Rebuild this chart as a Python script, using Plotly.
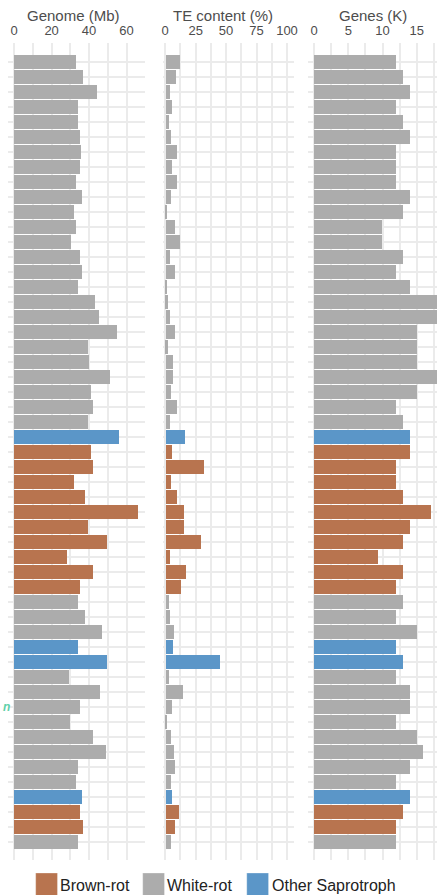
import plotly.graph_objects as go

# ---- data (one entry per genome/row, top to bottom) ----
lifestyle = (["White-rot"] * 25 + ["Other Saprotroph"] + ["Brown-rot"] * 10 +
             ["White-rot"] * 3 + ["Other Saprotroph"] * 2 + ["White-rot"] * 8 +
             ["Other Saprotroph"] + ["Brown-rot"] * 2 + ["White-rot"])

genome_mb = [33.2, 37.0, 44.1, 34.1, 34.1, 35.3, 36.0, 35.3, 33.3, 36.2,
             32.1, 33.3, 30.4, 35.3, 36.2, 34.2, 43.1, 45.3, 55.0, 39.4,
             40.2, 51.2, 41.1, 42.2, 39.4, 55.9, 41.1, 42.2, 32.1, 38.1,
             66.0, 39.4, 49.9, 28.2, 42.2, 35.3, 34.2, 38.1, 47.1, 34.2,
             49.9, 29.3, 46.2, 35.3, 30.2, 42.2, 49.0, 34.2, 33.2, 36.2,
             35.3, 37.0, 34.2]

te_pct = [11.7, 8.2, 3.8, 5.1, 2.9, 4.1, 8.9, 4.9, 9.5, 4.3,
          1.1, 7.6, 11.4, 3.8, 7.9, 0.8, 1.6, 3.2, 7.6, 1.6,
          6.2, 5.7, 4.3, 8.9, 3.2, 15.7, 5.1, 31.8, 4.3, 8.9,
          14.9, 14.9, 28.8, 3.2, 16.8, 12.5, 2.7, 3.8, 6.5, 5.9,
          44.8, 2.7, 14.6, 5.4, 0.3, 4.6, 6.8, 7.6, 4.3, 5.1,
          10.6, 7.6, 4.6]

genes_k = [12, 13, 14, 12, 13, 14, 12, 12, 12, 14,
           13, 10, 10, 13, 12, 14, 19, 19, 15, 15,
           15, 19, 15, 12, 13, 14, 14, 12, 12, 13,
           17.1, 14, 13, 9.3, 13, 12, 13, 12, 15, 12,
           13, 12, 14, 14, 12, 15, 16, 14, 12, 14,
           13, 12, 12]

panel_titles = ["Genome (Mb)", "TE content (%)", "Genes (K)"]
tick_sets = [[0, 20, 40, 60], [0, 25, 50, 75, 100], [0, 5, 10, 15]]
legend_order = ["Brown-rot", "White-rot", "Other Saprotroph"]
colors = {"Brown-rot": "#b8744f", "White-rot": "#acacac", "Other Saprotroph": "#5b96c8"}

# ---- layout constants (pixels) ----
W, H = 440, 895
TOP, BOTTOM = 43, 860
PH = BOTTOM - TOP
rows = list(range(len(genome_mb)))
bar_colors = [colors[g] for g in lifestyle]
FONT = "Liberation Sans, Arial, sans-serif"

panels = [
    dict(vals=genome_mb, dom=(7.3, 145.0), rng=(-3.17, 69.7), minor=10, tc=73.5),
    dict(vals=te_pct, dom=(163.0, 296.0), rng=(-2.2, 106.0), minor=12.5, tc=224.5),
    dict(vals=genes_k, dom=(310.0, 440.0), rng=(-0.87, 17.97), minor=2.5, tc=375.0),
]

fig = go.Figure()
grid = "#ebebeb"
GW = 1.6
for i, p in enumerate(panels):
    k = "" if i == 0 else str(i + 1)
    fig.add_trace(go.Bar(
        x=p["vals"], y=rows, orientation="h", width=0.9,
        marker=dict(color=bar_colors, line=dict(width=0)),
        xaxis="x" + k, yaxis="y" + k, showlegend=False,
        hoverinfo="x",
    ))
    fig.layout["xaxis" + k] = dict(
        domain=[p["dom"][0] / W, p["dom"][1] / W], range=list(p["rng"]),
        side="top", anchor="y" + k, tickvals=tick_sets[i],
        tickfont=dict(family=FONT, size=13, color="#4d4d4d"),
        ticks="", ticklabelstandoff=4,
        showgrid=True, gridcolor=grid, gridwidth=GW, zeroline=False, showline=False,
        minor=dict(dtick=p["minor"], tick0=0, showgrid=True, gridcolor=grid, gridwidth=GW),
        fixedrange=True,
    )
    fig.layout["yaxis" + k] = dict(
        domain=[0, 1], range=[53.2, -1.25], anchor="x" + k,
        tickvals=rows, showticklabels=False, ticks="",
        showgrid=True, gridcolor=grid, gridwidth=GW, zeroline=False, showline=False,
        fixedrange=True,
    )
    fig.add_annotation(
        text=panel_titles[i], xref="paper", yref="paper",
        x=p["tc"] / W, y=(BOTTOM - 15) / PH, xanchor="center", yanchor="middle",
        showarrow=False,
        font=dict(family=FONT, size=15, color="#4d4d4d"),
    )

# clipped (teal) row label at the left edge
fig.add_annotation(
    text="<b><i>n</i></b>", xref="paper", yref="y", x=11 / W, y=43,
    xanchor="right", yanchor="middle", showarrow=False,
    font=dict(family=FONT, size=12, color="#5fd1aa"),
)

# legend (drawn as swatches + labels)
leg_x = [35, 143, 248]
for name, x0 in zip(legend_order, leg_x):
    fig.add_shape(
        type="rect", xref="paper", yref="paper",
        x0=x0 / W, x1=(x0 + 22) / W,
        y0=(BOTTOM - 896) / PH, y1=(BOTTOM - 873) / PH,
        fillcolor=colors[name], line=dict(width=0.6, color="rgba(255,255,255,0.5)"),
    )
    fig.add_annotation(
        text=name, xref="paper", yref="paper",
        x=(x0 + 23) / W, y=(BOTTOM - 885) / PH, xanchor="left", yanchor="middle",
        showarrow=False,
        font=dict(family=FONT, size=16, color="#222222"),
    )

fig.update_layout(
    width=W, height=H,
    margin=dict(l=0, r=0, t=TOP, b=H - BOTTOM, pad=0),
    paper_bgcolor="white", plot_bgcolor="white",
    bargap=0, showlegend=False,
)

fig.write_html(
    "out.html",
    config={"displayModeBar": False},
    post_script="document.body.style.margin='0';document.body.style.overflow='hidden';",
)
